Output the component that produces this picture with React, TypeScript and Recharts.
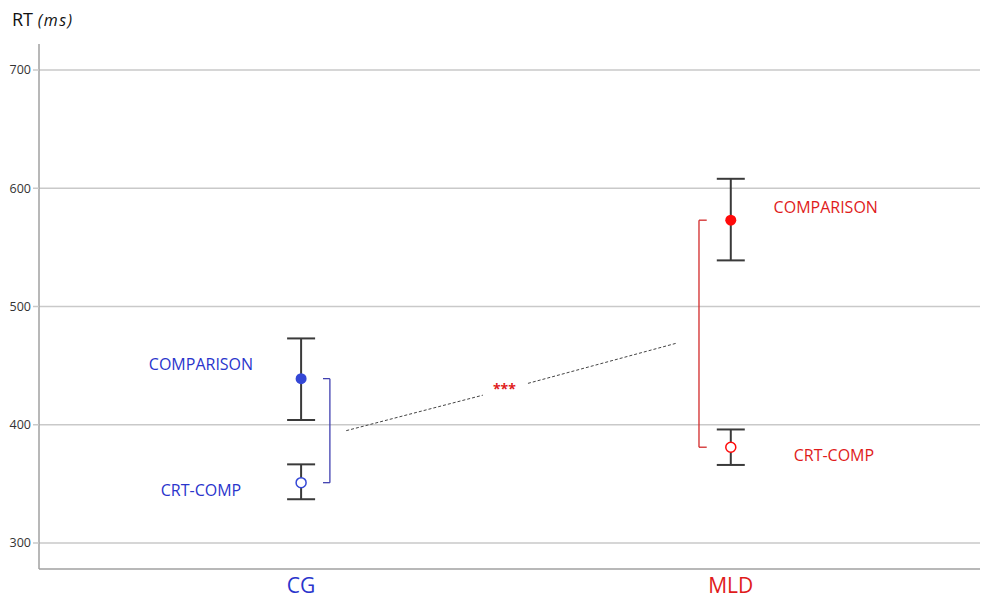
import {
  ComposedChart,
  Scatter,
  ErrorBar,
  XAxis,
  YAxis,
  ReferenceLine,
  ReferenceDot,
} from "recharts";

// groups on the x axis
const groups = ["CG", "MLD"];
const groupX = [1, 2];
const groupColors = ["#2a35cc", "#e01b1b"];
const markerColors = ["#3447d6", "#ff0a0a"];

// COMPARISON condition (mean and interval)
const comparisonMean = [439, 573];
const comparisonLow = [404, 539];
const comparisonHigh = [473, 608];

// CRT-COMP condition
const crtMean = [351, 381];
const crtLow = [337, 366];
const crtHigh = [366.5, 396];

const yTicks = [300, 400, 500, 600, 700];

const comparisonData = groups.map((g, i) => ({
  x: groupX[i],
  y: comparisonMean[i],
  err: [comparisonMean[i] - comparisonLow[i], comparisonHigh[i] - comparisonMean[i]],
  color: markerColors[i],
}));

const crtData = groups.map((g, i) => ({
  x: groupX[i],
  y: crtMean[i],
  err: [crtMean[i] - crtLow[i], crtHigh[i] - crtMean[i]],
  color: markerColors[i],
}));

const FONT = "'Open Sans', 'DejaVu Sans', sans-serif";

const FilledDot = (props: any) => {
  const { cx, cy, payload } = props;
  return <circle cx={cx} cy={cy} r={5.5} fill={payload.color} />;
};

const OpenDot = (props: any) => {
  const { cx, cy, payload } = props;
  return <circle cx={cx} cy={cy} r={5} fill="#fff" stroke={payload.color} strokeWidth={1.5} />;
};

const textShape = (label: string, color: string, size: number, weight = 400) => (props: any) =>
  (
    <text
      x={props.cx}
      y={props.cy}
      textAnchor="middle"
      dominantBaseline="central"
      fill={color}
      fontSize={size}
      fontWeight={weight}
      fontFamily={FONT}
    >
      {label}
    </text>
  );

const GroupTick = (props: any) => {
  const { x, y, payload } = props;
  const i = groupX.indexOf(payload.value);
  return (
    <text x={x} y={y} dy={16} textAnchor="middle" fill={groupColors[i]} fontSize={21} fontFamily={FONT}>
      {groups[i]}
    </text>
  );
};

// bracket / annotation placement (x in axis units)
const cgBracketX = 1.067;
const cgTickX = 1.051;
const mldBracketX = 1.926;
const mldTickX = 1.944;

export default function App() {
  return (
    <div style={{ position: "absolute", left: 0, top: 0, background: "#fff" }}>
      <div style={{ position: "absolute", left: 12, top: 6, fontFamily: FONT, color: "#111", whiteSpace: "nowrap", lineHeight: "26px" }}>
        <span style={{ fontSize: 18 }}>RT </span>
        <span style={{ fontSize: 16, fontStyle: "italic", letterSpacing: 1.5 }}>(ms)</span>
      </div>
      <ComposedChart width={981} height={606} margin={{ top: 44, right: 1, left: 0, bottom: 0 }}>
        <XAxis
          type="number"
          dataKey="x"
          domain={[0.39, 2.58]}
          ticks={groupX}
          tick={<GroupTick />}
          tickLine={false}
          axisLine={{ stroke: "#a0a0a0", strokeWidth: 1.5 }}
          height={37}
          allowDataOverflow
        />
        <YAxis
          type="number"
          domain={[278, 722]}
          ticks={yTicks}
          width={39}
          tickSize={6}
          tick={{ fontSize: 12.5, fill: "#333", fontFamily: FONT }}
          tickLine={{ stroke: "#c9c9c9", strokeWidth: 1.5 }}
          axisLine={{ stroke: "#a0a0a0", strokeWidth: 1.5 }}
          allowDataOverflow
        />

        {/* horizontal grid */}
        {yTicks.map((t) => (
          <ReferenceLine key={t} y={t} stroke="#c9c9c9" strokeWidth={1.5} />
        ))}

        {/* CG bracket */}
        <ReferenceLine segment={[{ x: cgTickX, y: comparisonMean[0] }, { x: cgBracketX, y: comparisonMean[0] }]} stroke="#4040b0" strokeWidth={1.3} />
        <ReferenceLine segment={[{ x: cgBracketX, y: comparisonMean[0] }, { x: cgBracketX, y: crtMean[0] }]} stroke="#4040b0" strokeWidth={1.3} />
        <ReferenceLine segment={[{ x: cgTickX, y: crtMean[0] }, { x: cgBracketX, y: crtMean[0] }]} stroke="#4040b0" strokeWidth={1.3} />

        {/* MLD bracket */}
        <ReferenceLine segment={[{ x: mldTickX, y: comparisonMean[1] }, { x: mldBracketX, y: comparisonMean[1] }]} stroke="#d22a2a" strokeWidth={1.3} />
        <ReferenceLine segment={[{ x: mldBracketX, y: comparisonMean[1] }, { x: mldBracketX, y: crtMean[1] }]} stroke="#d22a2a" strokeWidth={1.3} />
        <ReferenceLine segment={[{ x: mldTickX, y: crtMean[1] }, { x: mldBracketX, y: crtMean[1] }]} stroke="#d22a2a" strokeWidth={1.3} />

        {/* dashed interaction line with gap for *** */}
        <ReferenceLine segment={[{ x: 1.105, y: 395 }, { x: 1.423, y: 425 }]} stroke="#444" strokeDasharray="3 2" strokeWidth={1} />
        <ReferenceLine segment={[{ x: 1.528, y: 435 }, { x: 1.874, y: 469 }]} stroke="#444" strokeDasharray="3 2" strokeWidth={1} />
        <ReferenceDot x={1.473} y={431} r={0} shape={textShape("***", "#e02020", 14, 700)} />

        {/* condition labels */}
        <ReferenceDot x={0.767} y={451} r={0} shape={textShape("COMPARISON", groupColors[0], 16)} />
        <ReferenceDot x={0.767} y={345} r={0} shape={textShape("CRT-COMP", groupColors[0], 16)} />
        <ReferenceDot x={2.221} y={584} r={0} shape={textShape("COMPARISON", groupColors[1], 16)} />
        <ReferenceDot x={2.24} y={374} r={0} shape={textShape("CRT-COMP", groupColors[1], 16)} />

        <Scatter data={comparisonData} dataKey="y" shape={<FilledDot />} isAnimationActive={false}>
          <ErrorBar dataKey="err" direction="y" width={14} stroke="#3a3a3a" strokeWidth={2} />
        </Scatter>
        <Scatter data={crtData} dataKey="y" shape={<OpenDot />} isAnimationActive={false}>
          <ErrorBar dataKey="err" direction="y" width={14} stroke="#3a3a3a" strokeWidth={2} />
        </Scatter>
      </ComposedChart>
    </div>
  );
}
